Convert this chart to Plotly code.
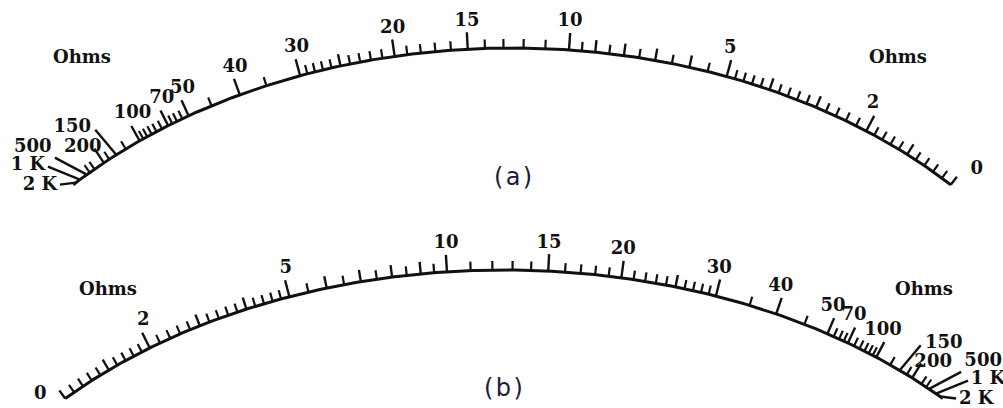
import numpy as np
import plotly.graph_objects as go

# ---------------- data: ohmmeter scale calibration ----------------
# fraction of the full arc, measured from the 0-ohm end
label_ohms = [0, 2, 5, 10, 15, 20, 30, 40, 50, 70, 100, 150, 200, 500, 1000, 2000]
label_text = ["0", "2", "5", "10", "15", "20", "30", "40", "50", "70", "100", "150", "200", "500", "1 K", "2 K"]
label_pos = [0.0, 0.115, 0.277, 0.442, 0.545, 0.620, 0.720, 0.787, 0.847, 0.872, 0.908, 0.939, 0.956, 0.980, 0.990, 0.996]

medium_ohms = [1, 3, 4, 6, 7, 8, 9, 25]
minor_ohms = [0.2, 0.4, 0.6, 0.8, 1.2, 1.4, 1.6, 1.8,
              2.2, 2.4, 2.6, 2.8, 3.2, 3.4, 3.6, 3.8, 4.2, 4.4, 4.6, 4.8,
              5.5, 6.5, 7.5, 8.5, 9.5,
              11, 12, 13, 14, 16, 17, 18, 19,
              21, 22, 23, 24, 26, 27, 28, 29,
              35, 45,
              55, 60, 65, 75, 80, 85, 90, 95,
              125, 175, 300, 400]
mid_scale_ohms = 12.5

# ---------------- layout / style ----------------
W, H = 1003, 408
DIALS = [
    dict(cx=512, top=48, a=600, b=430, half=47, zero_right=True, mirror=1,
         zero_off=(26, -15), caption="(\u200aa\u200a)", cap_xy=(513, 177),
         ohms_xy=[(82, 56), (898, 56)]),
    dict(cx=504, top=270, a=600, b=404, half=47, zero_right=False, mirror=-1,
         zero_off=(-25, -4), caption="(\u200ab\u200a)", cap_xy=(503, 388),
         ohms_xy=[(108, 288), (924, 288)]),
]
# label fan at the high-resistance end (offsets for dial a, mirrored for dial b)
FAN = {
    150: dict(lead=(-21, -25), text=(-44, -27)),
    200: dict(lead=None, text=(-21, -15)),
    500: dict(lead=(-32, -17), text=(-54, -27)),
    1000: dict(lead=(-32, -13), text=(-52, -14)),
    2000: dict(lead=(-16, 2), text=(-36, 3)),
}
L_MAJOR, L_MED, L_MINOR, L_ZERO = 17, 12, 9, 10
LABEL_GAP = 11


def u(r):
    r = np.asarray(r, dtype=float)
    return r / (r + mid_scale_ohms)


def scale_pos(r):
    return np.interp(u(r), u(label_ohms), label_pos)


def geom(d, pos):
    h = np.radians(d["half"])
    t = (h - pos * 2 * h) if d["zero_right"] else (-h + pos * 2 * h)
    x = d["cx"] + d["a"] * np.sin(t)
    y = d["top"] + d["b"] * (1 - np.cos(t))
    nx, ny = np.sin(t) / d["a"], -np.cos(t) / d["b"]
    n = np.hypot(nx, ny)
    return x, y, nx / n, ny / n


def seg(xs, ys, x0, y0, x1, y1):
    xs += [x0, x1, None]
    ys += [y0, y1, None]


arc_x, arc_y = [], []
maj_x, maj_y, med_x, med_y, min_x, min_y = [], [], [], [], [], []
txt_x, txt_y, txt_s = [], [], []

for d in DIALS:
    p = np.linspace(0, 1, 300)
    x, y, _, _ = geom(d, p)
    arc_x += list(x) + [None]
    arc_y += list(y) + [None]
    m = d["mirror"]
    for r, lab, ps in zip(label_ohms, label_text, label_pos):
        x, y, nx, ny = geom(d, ps)
        if r in FAN:
            f = FAN[r]
            if f["lead"] is not None:
                seg(maj_x, maj_y, x, y, x + m * f["lead"][0], y + f["lead"][1])
            else:
                seg(maj_x, maj_y, x, y, x + L_MAJOR * nx, y + L_MAJOR * ny)
            txt_x.append(x + m * f["text"][0])
            txt_y.append(y + f["text"][1])
        elif r == 0:
            seg(maj_x, maj_y, x, y, x + L_ZERO * nx, y + L_ZERO * ny)
            txt_x.append(x + d["zero_off"][0])
            txt_y.append(y + d["zero_off"][1])
        else:
            seg(maj_x, maj_y, x, y, x + L_MAJOR * nx, y + L_MAJOR * ny)
            dx, dy = nx, ny - 1.0
            dn = np.hypot(dx, dy)
            dist = L_MAJOR + LABEL_GAP
            txt_x.append(x + dist * dx / dn)
            txt_y.append(y + dist * dy / dn)
        txt_s.append(lab)
    for r in medium_ohms:
        x, y, nx, ny = geom(d, scale_pos(r))
        seg(med_x, med_y, x, y, x + L_MED * nx, y + L_MED * ny)
    for r in minor_ohms:
        x, y, nx, ny = geom(d, scale_pos(r))
        seg(min_x, min_y, x, y, x + L_MINOR * nx, y + L_MINOR * ny)

fig = go.Figure()
ink = "#111111"
fig.add_trace(go.Scatter(x=arc_x, y=arc_y, mode="lines", line=dict(color=ink, width=3), hoverinfo="skip"))
fig.add_trace(go.Scatter(x=maj_x, y=maj_y, mode="lines", line=dict(color=ink, width=2.4), hoverinfo="skip"))
fig.add_trace(go.Scatter(x=med_x, y=med_y, mode="lines", line=dict(color=ink, width=2.4), hoverinfo="skip"))
fig.add_trace(go.Scatter(x=min_x, y=min_y, mode="lines", line=dict(color=ink, width=2.2), hoverinfo="skip"))
fig.add_trace(go.Scatter(x=txt_x, y=txt_y, mode="text", text=txt_s, textposition="middle center",
                         textfont=dict(family="DejaVu Serif", size=18, color=ink, weight="bold"),
                         hoverinfo="skip"))

annotations = []
for d in DIALS:
    for (ox, oy) in d["ohms_xy"]:
        annotations.append(dict(x=ox, y=oy, text="Ohms", showarrow=False, xref="x", yref="y",
                                font=dict(family="DejaVu Serif", size=18, color=ink, weight="bold")))
    annotations.append(dict(x=d["cap_xy"][0], y=d["cap_xy"][1], text=d["caption"], showarrow=False,
                            xref="x", yref="y",
                            font=dict(family="DejaVu Sans", size=24, color="#1b1b3a")))

fig.update_layout(
    width=W, height=H, autosize=False,
    margin=dict(l=0, r=0, t=0, b=0),
    paper_bgcolor="white", plot_bgcolor="white",
    showlegend=False,
    xaxis=dict(range=[0, W], visible=False, fixedrange=True),
    yaxis=dict(range=[H, 0], visible=False, fixedrange=True),
    annotations=annotations,
)

fig.write_html("out.html", config={"displayModeBar": False},
               post_script="document.body.style.margin='0';document.body.style.overflow='hidden';")
